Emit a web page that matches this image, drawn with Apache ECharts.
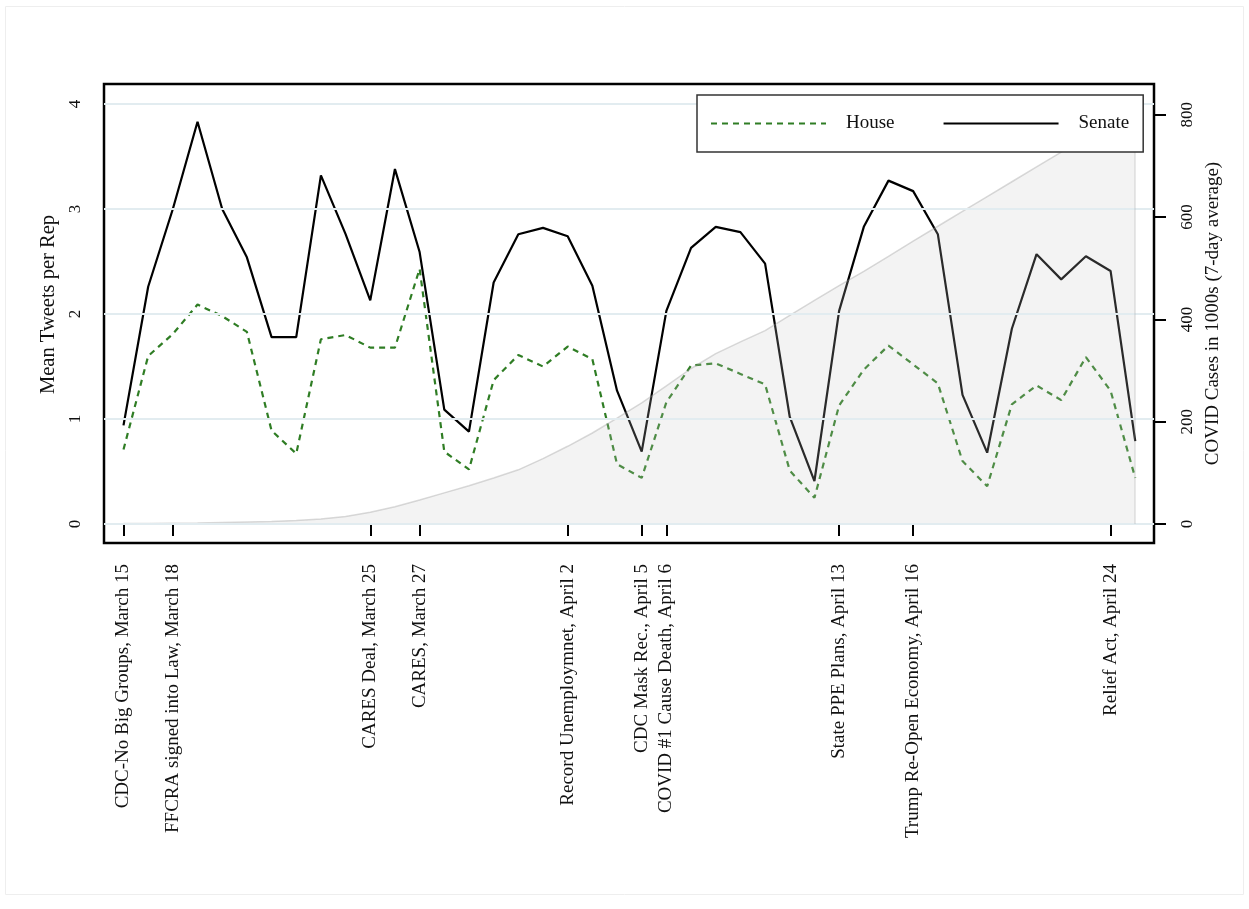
<!DOCTYPE html>
<html>
<head>
<meta charset="utf-8">
<title>Mean Tweets per Rep and COVID Cases</title>
<script src="https://cdn.jsdelivr.net/npm/echarts@6/dist/echarts.min.js"></script>
<style>
  html, body { margin: 0; padding: 0; background: #fff; }
  #chart { width: 1249px; height: 909px; }
</style>
</head>
<body>
<div id="chart"></div>
<script>
// Day index, 0 = March 15
const days = [0, 1, 2, 3, 4, 5, 6, 7, 8, 9, 10, 11, 12, 13, 14, 15, 16, 17, 18, 19, 20,
  21, 22, 23, 24, 25, 26, 27, 28, 29, 30, 31, 32, 33, 34, 35, 36, 37, 38, 39, 40, 41];

// Mean tweets per representative
const senate = [0.94, 2.26, 3.00, 3.83, 3.00, 2.54, 1.78, 1.78, 3.32, 2.76, 2.13, 3.38, 2.59, 1.09,
  0.88, 2.30, 2.76, 2.82, 2.74, 2.27, 1.27, 0.69, 2.03, 2.63, 2.83, 2.78, 2.48, 1.02,
  0.41, 2.03, 2.83, 3.27, 3.17, 2.76, 1.23, 0.68, 1.86, 2.57, 2.33, 2.55, 2.41, 0.79];
const house = [0.71, 1.60, 1.81, 2.09, 1.98, 1.83, 0.89, 0.67, 1.76, 1.80, 1.68, 1.68, 2.43, 0.69,
  0.52, 1.37, 1.61, 1.50, 1.69, 1.57, 0.57, 0.44, 1.16, 1.51, 1.53, 1.43, 1.33, 0.51,
  0.25, 1.13, 1.47, 1.70, 1.52, 1.34, 0.60, 0.36, 1.14, 1.32, 1.18, 1.59, 1.27, 0.44];

// COVID cases in 1000s (7-day average)
const covid = [1, 1, 1.5, 2, 3, 4, 5, 7, 10, 15, 23, 34, 47, 61, 75, 90, 106, 128, 152, 178, 207,
  237, 270, 304, 333, 356, 378, 408, 437, 466, 494, 523, 553, 582, 611, 640, 669, 698, 727, 756, 786, 814];

// Event markers on the date axis
const eventDays = [0, 2, 10, 12, 18, 21, 22, 29, 32, 40];
const eventLabels = [
  'CDC-No Big Groups, March 15',
  'FFCRA signed into Law, March 18',
  'CARES Deal, March 25',
  'CARES, March 27',
  'Record Unemploymnet, April 2',
  'CDC Mask Rec., April 5',
  'COVID #1 Cause Death, April 6',
  'State PPE Plans, April 13',
  'Trump Re-Open Economy, April 16',
  'Relief Act, April 24'
];

const leftTicks = [0, 1, 2, 3, 4];
const rightTicks = [0, 200, 400, 600, 800];

const FONT = "'Liberation Serif', 'Times New Roman', serif";
const pairs = (vals) => days.map((d, i) => [d, vals[i]]);

const chart = echarts.init(document.getElementById('chart'), null, { renderer: 'canvas' });

chart.setOption({
  animation: false,
  backgroundColor: '#fff',
  textStyle: { fontFamily: FONT },
  graphic: [{
    type: 'rect',
    shape: { x: 5.5, y: 6.5, width: 1238, height: 888 },
    style: { fill: 'none', stroke: '#eeeeee', lineWidth: 1 },
    silent: true, z: -10
  }],
  grid: {
    left: 104, top: 84, right: 95, bottom: 366,
    containLabel: false,
    outerBoundsMode: 'none',
    show: true,
    borderColor: '#000',
    borderWidth: 2.5,
    backgroundColor: 'transparent'
  },
  legend: {
    data: ['House', 'Senate'],
    left: 697, top: 95,
    orient: 'horizontal',
    padding: [19, 14, 19, 13],
    itemGap: 48,
    itemWidth: 115,
    itemHeight: 16,
    borderColor: '#333',
    borderWidth: 1.5,
    borderRadius: 0,
    backgroundColor: '#fff',
    selectedMode: false,
    z: 10,
    itemStyle: { opacity: 0 },
    textStyle: { fontFamily: FONT, fontSize: 19, color: '#111', padding: [0, 0, 0, 15] }
  },
  xAxis: {
    type: 'value',
    min: -0.79, max: 41.76,
    axisLine: { show: false },
    splitLine: { show: false },
    axisTick: { show: true, customValues: eventDays, length: 12, lineStyle: { color: '#000', width: 2 } },
    axisLabel: {
      customValues: eventDays,
      rotate: 90,
      margin: 21,
      padding: [6, 0, 0, 0],
      fontFamily: FONT, fontSize: 19, color: '#111',
      formatter: (v) => {
        const i = eventDays.indexOf(Math.round(v));
        return i >= 0 ? eventLabels[i] : '';
      }
    }
  },
  yAxis: [{
    type: 'value',
    position: 'left',
    min: -0.18, max: 4.19,
    name: 'Mean Tweets per Rep',
    nameLocation: 'middle',
    nameRotate: 90,
    nameGap: 40,
    nameTextStyle: { fontFamily: FONT, fontSize: 20.5, color: '#111', padding: [0, 0, 0, 18] },
    axisLine: { show: false },
    splitLine: { show: false },
    axisTick: { show: true, customValues: leftTicks, length: 12, lineStyle: { color: '#000', width: 2 } },
    axisLabel: {
      customValues: leftTicks, rotate: 90, margin: 20,
      fontFamily: FONT, fontSize: 17, color: '#111'
    }
  }, {
    type: 'value',
    position: 'right',
    min: -37, max: 860,
    name: 'COVID Cases in 1000s (7-day average)',
    nameLocation: 'middle',
    nameRotate: 90,
    nameGap: 46,
    nameTextStyle: { fontFamily: FONT, fontSize: 19, color: '#111' },
    axisLine: { show: false },
    splitLine: { show: false },
    axisTick: { show: true, customValues: rightTicks, length: 12, lineStyle: { color: '#000', width: 2 } },
    axisLabel: {
      customValues: rightTicks, rotate: 90, margin: 25,
      fontFamily: FONT, fontSize: 17, color: '#111'
    }
  }],
  series: [
    {
      // horizontal reference lines at each left-axis tick
      name: 'grid',
      type: 'line',
      data: [],
      z: 1,
      silent: true,
      markLine: {
        silent: true,
        symbol: ['none', 'none'],
        label: { show: false },
        lineStyle: { color: '#e2ecf0', width: 2, type: 'solid' },
        data: leftTicks.map(t => ({ yAxis: t }))
      }
    },
    {
      name: 'House',
      type: 'line',
      data: pairs(house),
      symbol: 'none',
      z: 2,
      lineStyle: { color: '#2f7d24', width: 2.2, type: [6, 5] },
      itemStyle: { color: '#2f7d24' }
    },
    {
      name: 'Senate',
      type: 'line',
      data: pairs(senate),
      symbol: 'none',
      z: 2,
      lineStyle: { color: '#000', width: 2.2 },
      itemStyle: { color: '#000' }
    },
    {
      name: 'COVID Cases',
      type: 'line',
      yAxisIndex: 1,
      data: pairs(covid),
      symbol: 'none',
      z: 3,
      silent: true,
      lineStyle: { color: 'rgba(150,150,150,0.35)', width: 1.5 },
      areaStyle: { color: 'rgba(200,200,200,0.3)' },
      markLine: {
        silent: true,
        symbol: ['none', 'none'],
        label: { show: false },
        lineStyle: { color: 'rgba(150,150,150,0.25)', width: 1.5, type: 'solid' },
        data: [[{ coord: [days[days.length - 1], 0] }, { coord: [days[days.length - 1], covid[covid.length - 1]] }]]
      }
    }
  ]
});
</script>
</body>
</html>
